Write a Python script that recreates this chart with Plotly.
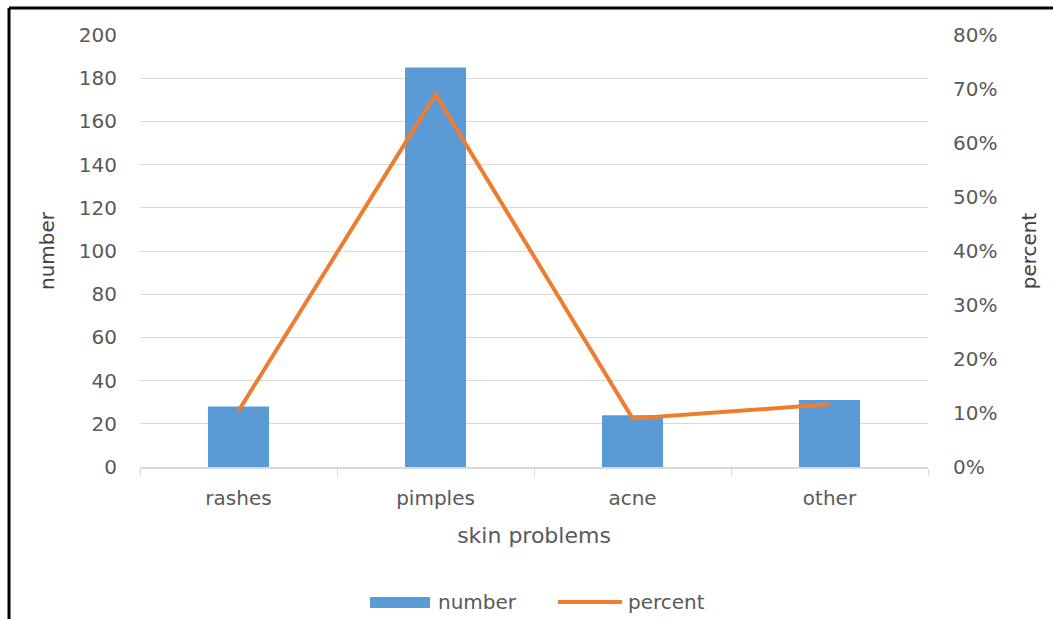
import plotly.graph_objects as go

categories = ["rashes", "pimples", "acne", "other"]
numbers = [28, 185, 24, 31]
percents = [0.104, 0.690, 0.090, 0.116]

BAR_COLOR = "#5B9BD5"
LINE_COLOR = "#ED7D31"
TEXT_COLOR = "#595959"
TITLE_COLOR = "#404040"
GRID_COLOR = "#d9d9d9"
FONT = "DejaVu Sans, Verdana, sans-serif"

W, H = 1053, 619
L, R, T, B = 140, 125, 35, 152
pw, ph = W - L - R, H - T - B


def px_x(x):
    """Pixel column -> paper x."""
    return (x - L) / pw


def px_y(y):
    """Pixel row -> paper y."""
    return (H - B - y) / ph


fig = go.Figure()
fig.add_trace(go.Bar(
    x=categories, y=numbers, name="number",
    marker=dict(color=BAR_COLOR, line=dict(width=0)),
    yaxis="y", showlegend=False,
))
fig.add_trace(go.Scatter(
    x=categories, y=percents, name="percent", mode="lines",
    line=dict(color=LINE_COLOR, width=4),
    yaxis="y2", showlegend=False,
))

tick_font = dict(family=FONT, size=20, color=TEXT_COLOR)

# chart frame (left and top edges)
fig.add_shape(type="line", xref="paper", yref="paper",
              x0=px_x(9), x1=px_x(9), y0=px_y(H + 20), y1=px_y(8),
              line=dict(color="black", width=3))
fig.add_shape(type="line", xref="paper", yref="paper",
              x0=px_x(9), x1=px_x(W + 20), y0=px_y(8), y1=px_y(8),
              line=dict(color="black", width=3))

# legend: bar swatch, line swatch and labels
fig.add_shape(type="rect", xref="paper", yref="paper",
              x0=px_x(370), x1=px_x(430), y0=px_y(608), y1=px_y(597),
              fillcolor=BAR_COLOR, line=dict(width=0))
fig.add_shape(type="line", xref="paper", yref="paper",
              x0=px_x(558), x1=px_x(622), y0=px_y(602), y1=px_y(602),
              line=dict(color=LINE_COLOR, width=4))
legend_font = dict(family=FONT, size=20, color=TEXT_COLOR)
fig.add_annotation(text="number", xref="paper", yref="paper",
                   x=px_x(436), y=px_y(602), xanchor="left", yanchor="middle",
                   showarrow=False, font=legend_font)
fig.add_annotation(text="percent", xref="paper", yref="paper",
                   x=px_x(626), y=px_y(602), xanchor="left", yanchor="middle",
                   showarrow=False, font=legend_font)

fig.update_layout(
    width=W, height=H,
    margin=dict(l=L, r=R, t=T, b=B, autoexpand=False),
    paper_bgcolor="white", plot_bgcolor="white",
    bargap=0.69,
    showlegend=False,
    font=dict(family=FONT, color=TEXT_COLOR),
    xaxis=dict(
        title=dict(text="skin problems", font=dict(family=FONT, size=22, color=TEXT_COLOR), standoff=19),
        tickfont=tick_font, ticklabelstandoff=12,
        showline=True, linecolor=GRID_COLOR, linewidth=1.5,
        ticks="outside", ticklen=7, tickcolor=GRID_COLOR, tickson="boundaries",
        showgrid=False, automargin=False,
    ),
    yaxis=dict(
        title=dict(text="number", font=dict(family=FONT, size=20, color=TITLE_COLOR), standoff=18),
        range=[0, 200], dtick=20,
        tickfont=tick_font, ticklabelstandoff=22,
        gridcolor=GRID_COLOR, gridwidth=1.3,
        zeroline=False, showline=False, automargin=False,
    ),
    yaxis2=dict(
        title=dict(text="percent", font=dict(family=FONT, size=20, color=TITLE_COLOR), standoff=25),
        overlaying="y", side="right",
        range=[0, 0.8], dtick=0.1, tickformat=".0%",
        tickfont=tick_font, ticklabelstandoff=24,
        showgrid=False, zeroline=False, showline=False, automargin=False,
    ),
)

fig.write_html("out.html")
